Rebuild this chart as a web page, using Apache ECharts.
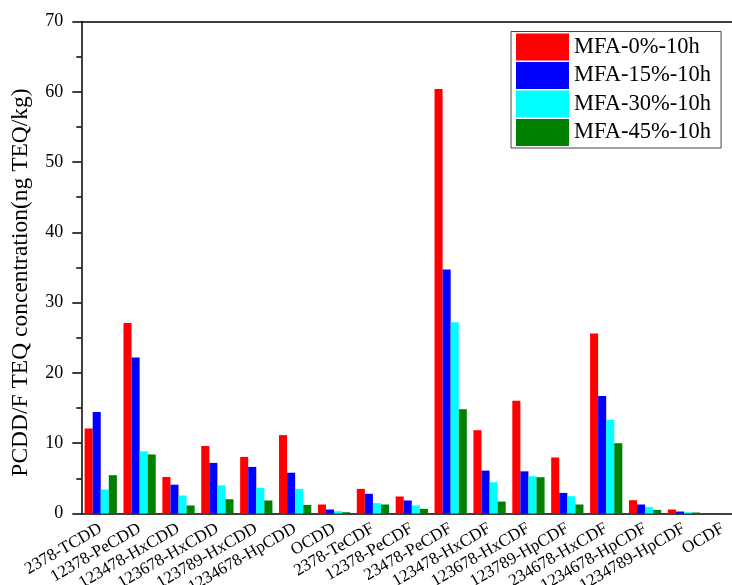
<!DOCTYPE html>
<html>
<head>
<meta charset="utf-8">
<script src="https://cdn.jsdelivr.net/npm/echarts@6/dist/echarts.min.js"></script>
<style>
html,body{margin:0;padding:0;background:#fff;}
#chart{width:732px;height:585px;}
</style>
</head>
<body>
<div id="chart"></div>
<script>
const categories = ['2378-TCDD','12378-PeCDD','123478-HxCDD','123678-HxCDD','123789-HxCDD','1234678-HpCDD','OCDD','2378-TeCDF','12378-PeCDF','23478-PeCDF','123478-HxCDF','123678-HxCDF','123789-HpCDF','234678-HxCDF','1234678-HpCDF','1234789-HpCDF','OCDF'];
const seriesNames = ['MFA-0%-10h','MFA-15%-10h','MFA-30%-10h','MFA-45%-10h'];
const mfa0  = [12.1, 27.1, 5.2, 9.6, 8.05, 11.15, 1.28, 3.5, 2.42, 60.4, 11.85, 16.05, 7.97, 25.6, 1.89, 0.57, 0.02];
const mfa15 = [14.45, 22.2, 4.1, 7.2, 6.63, 5.8, 0.57, 2.8, 1.85, 34.7, 6.1, 6.0, 2.93, 16.7, 1.28, 0.28, 0.01];
const mfa30 = [3.4, 8.85, 2.55, 4.0, 3.65, 3.5, 0.33, 1.47, 1.14, 27.2, 4.45, 5.3, 2.46, 13.3, 0.9, 0.18, 0.01];
const mfa45 = [5.45, 8.4, 1.14, 2.03, 1.85, 1.22, 0.18, 1.28, 0.66, 14.85, 1.7, 5.16, 1.28, 10.0, 0.52, 0.14, 0.01];
const yTicks = [0, 10, 20, 30, 40, 50, 60, 70];
const colors = ['#ff0000', '#0000ff', '#00ffff', '#008000'];

const FONT = '"Liberation Serif", "Times New Roman", serif';
const chart = echarts.init(document.getElementById('chart'), null, {renderer: 'canvas'});
const values = [mfa0, mfa15, mfa30, mfa45];

chart.setOption({
  animation: false,
  backgroundColor: '#ffffff',
  grid: {left: 81.3, top: 21.5, width: 661, height: 492, containLabel: false, outerBoundsMode: 'none'},
  legend: {
    data: seriesNames,
    orient: 'vertical',
    left: 511,
    top: 31.5,
    itemWidth: 53,
    itemHeight: 27,
    itemGap: 1.5,
    padding: [2, 10, 2, 5],
    borderColor: '#444',
    borderWidth: 1,
    icon: 'rect',
    textStyle: {fontFamily: FONT, fontSize: 22.5, color: '#000'}
  },
  xAxis: [{
    type: 'category',
    data: categories,
    position: 'bottom',
    axisLine: {lineStyle: {color: '#000', width: 1.5}},
    axisTick: {alignWithLabel: true, length: 9, lineStyle: {color: '#000', width: 1.5}},
    axisLabel: {interval: 0, rotate: 30, margin: 14, fontFamily: FONT, fontSize: 17, color: '#000'},
    splitLine: {show: false}
  }, {
    type: 'category',
    data: categories,
    position: 'top',
    axisLine: {lineStyle: {color: '#000', width: 1.5}},
    axisTick: {show: false},
    axisLabel: {show: false},
    splitLine: {show: false}
  }],
  yAxis: {
    type: 'value',
    min: yTicks[0],
    max: yTicks[yTicks.length - 1],
    interval: 10,
    name: 'PCDD/F TEQ concentration(ng TEQ/kg)',
    nameLocation: 'middle',
    nameGap: 48,
    nameTextStyle: {fontFamily: FONT, fontSize: 23.5, color: '#000', padding: [0, 30, 0, 0]},
    axisLine: {show: true, lineStyle: {color: '#000', width: 1.5}},
    axisTick: {show: true, length: 9, lineStyle: {color: '#000', width: 1.5}},
    minorTick: {show: true, splitNumber: 2, length: 5, lineStyle: {color: '#000', width: 1.5}},
    axisLabel: {margin: 18, fontFamily: FONT, fontSize: 18, color: '#000'},
    splitLine: {show: false},
    minorSplitLine: {show: false}
  },
  series: seriesNames.map((n, i) => ({
    name: n,
    type: 'bar',
    data: values[i],
    barGap: '0%',
    barCategoryGap: '17%',
    itemStyle: {color: colors[i]}
  }))
});
</script>
</body>
</html>
